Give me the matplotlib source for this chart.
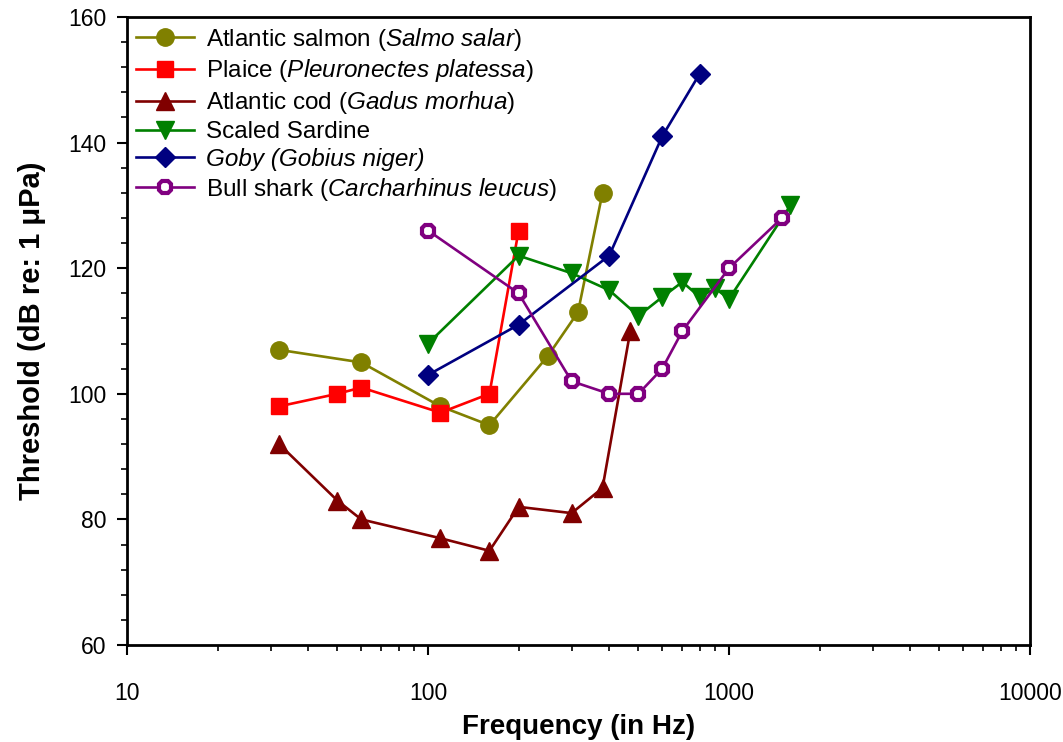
import matplotlib
matplotlib.use("Agg")
import matplotlib.pyplot as plt
from matplotlib.ticker import MultipleLocator, LogLocator, NullFormatter, FixedLocator

plt.rcParams['font.family'] = ['Liberation Sans', 'DejaVu Sans']
plt.rcParams['mathtext.fontset'] = 'custom'
plt.rcParams['mathtext.rm'] = 'Liberation Sans'
plt.rcParams['mathtext.it'] = 'Liberation Sans:italic'

# hearing thresholds
salmon_f = [32, 60, 110, 160, 250, 315, 380]
salmon_db = [107, 105, 98, 95, 106, 113, 132]

plaice_f = [32, 50, 60, 110, 160, 200]
plaice_db = [98, 100, 101, 97, 100, 126]

cod_f = [32, 50, 60, 110, 160, 200, 300, 380, 470]
cod_db = [92, 83, 80, 77, 75, 82, 81, 85, 110]

sardine_f = [100, 200, 300, 400, 500, 600, 700, 800, 900, 1000, 1600]
sardine_db = [108, 122, 119.2, 116.5, 112.4, 115.4, 117.8, 115.4, 116.8, 115.1, 130]

goby_f = [100, 200, 400, 600, 800]
goby_db = [103, 111, 122, 141, 151]

shark_f = [100, 200, 300, 400, 500, 600, 700, 1000, 1500]
shark_db = [126, 116, 102, 100, 100, 104, 110, 120, 128]

fig = plt.figure(figsize=(10.63, 7.42), dpi=100)
ax = fig.add_axes([127 / 1063, 1 - 645 / 742, (1030 - 127) / 1063, (645 - 17) / 742])

ms = 12.5
lw = 1.9
ax.plot(salmon_f, salmon_db, color='#808000', marker='o', ms=ms, lw=lw,
        label=r'Atlantic salmon ($\mathit{Salmo\ salar}$)')
ax.plot(plaice_f, plaice_db, color='#ff0000', marker='s', ms=ms - 1.5, lw=lw,
        label=r'Plaice ($\mathit{Pleuronectes\ platessa}$)')
ax.plot(cod_f, cod_db, color='#800000', marker='^', ms=ms, lw=lw,
        label=r'Atlantic cod ($\mathit{Gadus\ morhua}$)')
ax.plot(sardine_f, sardine_db, color='#008000', marker='v', ms=ms, lw=lw,
        label='Scaled Sardine')
ax.plot(goby_f, goby_db, color='#000080', marker='D', ms=ms - 2.5, lw=lw,
        label='Goby (Gobius niger)')
ax.plot(shark_f, shark_db, color='#800080', marker='8', ms=ms - 3, lw=lw,
        mfc='white', mec='#800080', mew=3,
        label=r'Bull shark ($\mathit{Carcharhinus\ leucus}$)')

ax.set_xscale('log')
ax.set_xlim(10, 10000)
ax.set_ylim(60, 160)
ax.xaxis.set_major_locator(FixedLocator([10, 100, 1000, 10000]))
ax.xaxis.set_minor_locator(LogLocator(base=10, subs=range(2, 10)))
ax.xaxis.set_minor_formatter(NullFormatter())
ax.set_xticklabels(['10', '100', '1000', '10000'])
ax.yaxis.set_major_locator(MultipleLocator(20))
ax.yaxis.set_minor_locator(MultipleLocator(4))

for lab in ax.get_xticklabels() + ax.get_yticklabels():
    lab.set_fontsize(16.5)

ax.tick_params(axis='both', which='major', direction='out', length=7, width=1.5)
ax.tick_params(axis='both', which='minor', direction='out', length=4, width=1.2)
ax.tick_params(axis='x', which='major', pad=20)
ax.tick_params(axis='y', which='major', pad=8)
for sp in ax.spines.values():
    sp.set_linewidth(2)

ax.set_xlabel('Frequency (in Hz)', fontsize=20, fontweight='bold', labelpad=6)
ax.set_ylabel('Threshold (dB re: 1 μPa)', fontsize=21, fontweight='bold', labelpad=16)

leg = ax.legend(loc='upper left', frameon=False, fontsize=17.5, handlelength=2.4,
                borderaxespad=0.05, borderpad=0.3, labelspacing=0.2, handletextpad=0.5)
leg.get_texts()[4].set_fontstyle('italic')

fig.savefig('out.png', dpi=100)
